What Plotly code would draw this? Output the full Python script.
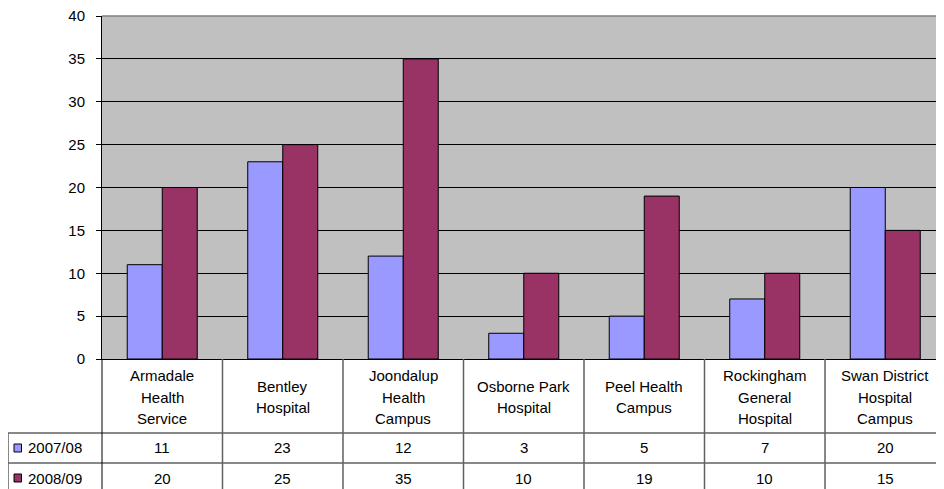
import plotly.graph_objects as go

categories = ["Armadale Health Service", "Bentley Hospital", "Joondalup Health Campus",
              "Osborne Park Hospital", "Peel Health Campus", "Rockingham General Hospital",
              "Swan District Hospital Campus"]
cat_labels = ["Armadale<br>Health<br>Service", "Bentley<br>Hospital", "Joondalup<br>Health<br>Campus",
              "Osborne Park<br>Hospital", "Peel Health<br>Campus", "Rockingham<br>General<br>Hospital",
              "Swan District<br>Hospital<br>Campus"]
series_names = ["2007/08", "2008/09"]
v2007 = [11, 23, 12, 3, 5, 7, 20]
v2008 = [20, 25, 35, 10, 19, 10, 15]
series_values = [v2007, v2008]
colors = ["#9999FF", "#993366"]
y_ticks = [0, 5, 10, 15, 20, 25, 30, 35, 40]

W, H = 944, 489
OFF = 8  # page body margin
L, R, T, B = 94, 0, 8, 138
pw, ph = W - L - R, H - T - B
cat_w = 120.5
FONT = "Liberation Sans, Arial, sans-serif"

def px_x(x):  # page pixel -> paper
    return (x - OFF - L) / pw

def px_y(y):
    return (H - B - (y - OFF)) / ph

fig = go.Figure()
for name, vals, col in zip(series_names, series_values, colors):
    fig.add_trace(go.Bar(x=categories, y=vals, name=name, marker_color=col,
                         marker_line_color="black", marker_line_width=1))

shapes = []
annotations = []
line_col = "#606060"
shapes.append(dict(type="line", xref="paper", yref="paper", x0=0, x1=1, y0=1, y1=1,
                   line=dict(color="#808080", width=1.5)))
for yy in [433, 463]:
    shapes.append(dict(type="line", xref="paper", yref="paper", x0=px_x(8), x1=1,
                       y0=px_y(yy), y1=px_y(yy), line=dict(color=line_col, width=1.5)))
shapes.append(dict(type="line", xref="paper", yref="paper", x0=px_x(8), x1=px_x(8),
                   y0=px_y(433), y1=px_y(500), line=dict(color=line_col, width=1.5)))
shapes.append(dict(type="line", xref="paper", yref="paper", x0=0, x1=0,
                   y0=0, y1=px_y(500), line=dict(color="black", width=1)))
for i in range(1, len(categories)):
    xx = 102 + i * cat_w
    shapes.append(dict(type="line", xref="paper", yref="paper", x0=px_x(xx), x1=px_x(xx),
                       y0=0, y1=px_y(500), line=dict(color=line_col, width=1.5)))

for i, lab in enumerate(cat_labels):
    lines = lab.split("<br>")
    n = len(lines)
    for j, t in enumerate(lines):
        ypx = 397 + (j - (n - 1) / 2) * 21
        annotations.append(dict(x=categories[i], xref="x", y=px_y(ypx), yref="paper",
                                text=t, showarrow=False, xanchor="center", yanchor="middle",
                                font=dict(family=FONT, size=15, color="black")))
row_y = [448, 478]
for r, (name, vals, col) in enumerate(zip(series_names, series_values, colors)):
    for i, v in enumerate(vals):
        annotations.append(dict(x=categories[i], xref="x", y=px_y(row_y[r]), yref="paper",
                                text=str(v), showarrow=False, xanchor="center", yanchor="middle",
                                font=dict(family=FONT, size=15, color="black")))
    shapes.append(dict(type="rect", xref="paper", yref="paper",
                       x0=px_x(14), x1=px_x(21.5), y0=px_y(row_y[r] - 4), y1=px_y(row_y[r] + 4),
                       fillcolor=col, line=dict(color="black", width=1)))
    annotations.append(dict(x=px_x(26), xref="paper", y=px_y(row_y[r]), yref="paper",
                            text=name, showarrow=False, xanchor="left", yanchor="middle",
                            font=dict(family=FONT, size=15, color="black")))

fig.update_layout(
    width=W, height=H,
    margin=dict(l=L, r=R, t=T, b=B, pad=0),
    paper_bgcolor="white", plot_bgcolor="#C0C0C0",
    barmode="group", bargap=0.419, bargroupgap=0,
    showlegend=False,
    shapes=shapes, annotations=annotations,
    font=dict(family=FONT, size=14, color="black"),
)
fig.update_xaxes(range=[-0.5, -0.5 + pw / cat_w], showticklabels=False, ticks="",
                 showgrid=False, showline=True, linecolor="black", linewidth=1,
                 zeroline=False, fixedrange=True)
fig.update_yaxes(range=[0, 40], tickvals=y_ticks, ticks="outside", ticklen=5,
                 tickcolor="black", showgrid=True, gridcolor="black", gridwidth=1,
                 showline=True, linecolor="black", linewidth=1, zeroline=False,
                 tickfont=dict(family=FONT, size=15), ticklabelstandoff=8,
                 ticklabeloverflow="allow")

fig.write_html("out.html")
